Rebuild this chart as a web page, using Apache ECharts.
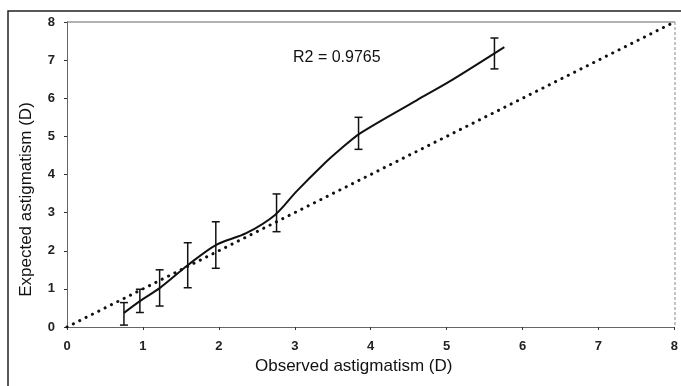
<!DOCTYPE html>
<html>
<head>
<meta charset="utf-8">
<script src="https://cdn.jsdelivr.net/npm/echarts@6/dist/echarts.min.js"></script>
<style>
  html, body { margin: 0; padding: 0; background: #fff; }
  #chart { width: 681px; height: 386px; }
</style>
</head>
<body>
<div id="chart"></div>
<script>
// error bars: observed value, mean expected, low, high
const obsX = [0.75, 0.96, 1.22, 1.59, 1.96, 2.76, 3.84, 5.63];
const meanY = [0.37, 0.68, 1.02, 1.62, 2.15, 2.96, 5.08, 7.2];
const lowY = [0.05, 0.38, 0.55, 1.03, 1.54, 2.5, 4.66, 6.77];
const highY = [0.64, 0.99, 1.5, 2.21, 2.76, 3.49, 5.5, 7.58];

// fitted curve as drawn
const curveX = [0.75, 0.96, 1.22, 1.59, 1.96, 2.36, 2.74, 3.02, 3.37, 3.6, 3.86, 4.6, 5.04, 5.76];
const curveY = [0.37, 0.68, 1.02, 1.62, 2.15, 2.46, 2.94, 3.55, 4.25, 4.66, 5.08, 5.94, 6.44, 7.34];

// identity line
const identity = [[0, 0], [8, 8]];

const xTicks = [0, 1, 2, 3, 4, 5, 6, 7, 8];
const yTicks = [0, 1, 2, 3, 4, 5, 6, 7, 8];

const chart = echarts.init(document.getElementById("chart"), null, { renderer: "canvas" });

const axisColor = "#666";
const font = "Liberation Sans, Arial, sans-serif";

chart.setOption({
  animation: false,
  backgroundColor: "#fff",
  textStyle: { fontFamily: font, color: "#111" },
  grid: { left: 67, right: 6, top: 22, bottom: 59 },
  xAxis: {
    type: "value",
    min: xTicks[0],
    max: xTicks[xTicks.length - 1],
    interval: 1,
    name: "Observed astigmatism (D)",
    nameLocation: "middle",
    nameGap: 30,
    nameTextStyle: { fontSize: 17, color: "#111", fontFamily: font, padding: [0, 34, 0, 0] },
    axisLine: { show: true, lineStyle: { color: axisColor, width: 1 } },
    axisTick: { show: true, length: 3, lineStyle: { color: "#333" } },
    axisLabel: { fontSize: 13, color: "#222", margin: 13, fontWeight: "bold" },
    splitLine: { show: false },
  },
  yAxis: {
    type: "value",
    min: yTicks[0],
    max: yTicks[yTicks.length - 1],
    interval: 1,
    name: "Expected astigmatism (D)",
    nameLocation: "middle",
    nameGap: 32,
    nameTextStyle: { fontSize: 17, color: "#111", fontFamily: font, padding: [0, 50, 0, 0] },
    axisLine: { show: true, lineStyle: { color: axisColor, width: 1 } },
    axisTick: { show: true, length: 3, lineStyle: { color: "#333" } },
    axisLabel: { fontSize: 13, color: "#222", margin: 12, fontWeight: "bold" },
    splitLine: { show: false },
  },
  graphic: [
    {
      type: "rect",
      shape: { x: 8, y: 11, width: 700, height: 400 },
      style: { fill: "none", stroke: "#222", lineWidth: 1.5 },
      silent: true,
    },
    {
      type: "line",
      shape: { x1: 67, y1: 22, x2: 675, y2: 22 },
      style: { stroke: axisColor, lineWidth: 1 },
      silent: true,
    },
    {
      type: "line",
      shape: { x1: 675, y1: 22, x2: 675, y2: 327 },
      style: { stroke: "#888", lineWidth: 1, lineDash: [3, 2] },
      silent: true,
    },
    {
      type: "text",
      left: 293,
      top: 50,
      style: { text: "R2 = 0.9765", fontSize: 16, fontFamily: font, fill: "#111" },
    },
  ],
  series: [
    {
      type: "line",
      data: identity,
      symbol: "none",
      lineStyle: { color: "#111", width: 3, type: [0.1, 7], cap: "round" },
      z: 2,
    },
    {
      type: "line",
      data: curveX.map((x, i) => [x, curveY[i]]),
      smooth: 0.3,
      symbol: "none",
      lineStyle: { color: "#111", width: 2 },
      z: 3,
    },
    {
      type: "custom",
      data: obsX.map((x, i) => [x, lowY[i], highY[i], meanY[i]]),
      renderItem: (params, api) => {
        const x = api.value(0);
        const lo = api.coord([x, api.value(1)]);
        const hi = api.coord([x, api.value(2)]);
        const cap = 4;
        const style = { stroke: "#111", lineWidth: 1.5 };
        return {
          type: "group",
          children: [
            { type: "line", shape: { x1: lo[0], y1: lo[1], x2: hi[0], y2: hi[1] }, style },
            { type: "line", shape: { x1: lo[0] - cap, y1: lo[1], x2: lo[0] + cap, y2: lo[1] }, style },
            { type: "line", shape: { x1: hi[0] - cap, y1: hi[1], x2: hi[0] + cap, y2: hi[1] }, style },
          ],
        };
      },
      z: 4,
    },
  ],
});
</script>
</body>
</html>
